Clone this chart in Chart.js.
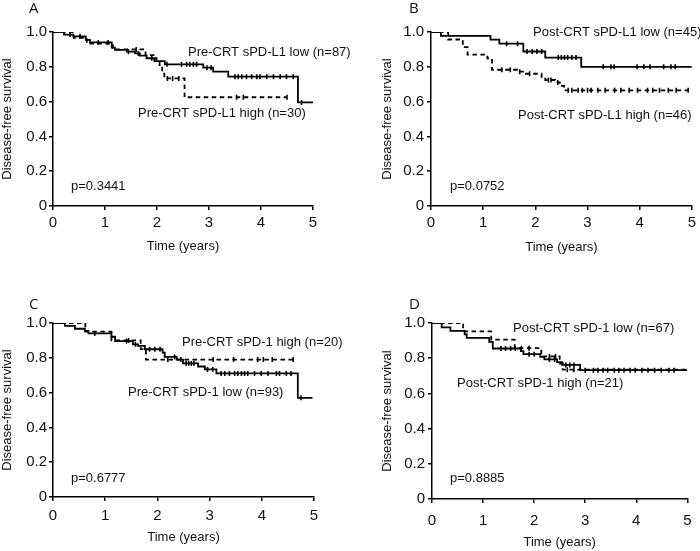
<!DOCTYPE html>
<html>
<head>
<meta charset="utf-8">
<script src="https://cdn.jsdelivr.net/npm/chart.js@4.4.1/dist/chart.umd.min.js"></script>
<style>
  html, body { margin: 0; padding: 0; background: #fff; }
  body { width: 700px; height: 551px; position: relative; overflow: hidden; }
  canvas { position: absolute; }
</style>
</head>
<body>
<canvas id="cA" width="350" height="275" style="left:0;top:0;width:350px;height:275px"></canvas>
<canvas id="cB" width="350" height="275" style="left:350px;top:0;width:350px;height:275px"></canvas>
<canvas id="cC" width="350" height="276" style="left:0;top:275px;width:350px;height:276px"></canvas>
<canvas id="cD" width="350" height="276" style="left:350px;top:275px;width:350px;height:276px"></canvas>
<script>
// ---------- tick labels ----------
const xTickLabels = ['0', '1', '2', '3', '4', '5'];
const yTickLabels = ['0', '0.2', '0.4', '0.6', '0.8', '1.0'];
const xTitle = 'Time (years)';
const yTitle = 'Disease-free survival';

// ---------- Panel A : Pre-CRT sPD-L1 ----------
const aLowT = [0, 0.21, 0.39, 0.63, 0.71, 1.13, 1.19, 1.42, 1.58, 1.67, 1.80, 1.99, 2.15, 2.89, 3.08, 3.37, 4.71, 5.0];
const aLowS = [1, 0.985, 0.975, 0.955, 0.94, 0.91, 0.897, 0.887, 0.877, 0.864, 0.849, 0.833, 0.814, 0.795, 0.772, 0.743, 0.595, 0.595];
const aLowCensor = [0.33, 0.52, 0.87, 1.06, 1.45, 1.64, 1.9, 2.19, 2.47, 2.57, 2.63, 2.7, 2.76, 2.96, 3.04, 3.5, 3.56, 3.63, 3.72, 3.82, 3.92, 3.98, 4.11, 4.24, 4.37, 4.49, 4.62, 4.78];
const aHighT = [0, 0.4, 0.65, 1.15, 1.78, 1.95, 2.05, 2.1, 2.14, 2.53, 4.5];
const aHighS = [1, 0.967, 0.933, 0.9, 0.867, 0.833, 0.8, 0.767, 0.733, 0.625, 0.625];
const aHighCensor = [1.6, 2.2, 2.3, 2.42, 3.53, 3.66, 4.5];

// ---------- Panel B : Post-CRT sPD-L1 ----------
const bLowT = [0, 0.19, 1.14, 1.31, 1.77, 2.19, 2.88, 5.0];
const bLowS = [1, 0.978, 0.956, 0.933, 0.888, 0.853, 0.80, 0.80];
const bLowCensor = [1.45, 1.66, 1.84, 1.94, 2.03, 2.12, 2.44, 2.5, 2.56, 2.62, 2.7, 2.78, 3.3, 3.45, 3.51, 3.95, 4.08, 4.2, 4.46, 4.6, 4.68];
const bHighT = [0, 0.33, 0.61, 0.7, 1.08, 1.17, 1.65, 1.82, 2.12, 2.19, 2.38, 2.47, 2.55, 4.93];
const bHighS = [1, 0.957, 0.913, 0.870, 0.848, 0.783, 0.772, 0.76, 0.742, 0.724, 0.71, 0.69, 0.665, 0.665];
const bHighCensor = [1.36, 1.52, 1.7, 1.89, 2.25, 2.3, 2.43, 2.63, 2.7, 2.82, 2.9, 3.0, 3.07, 3.2, 3.34, 3.52, 3.64, 3.8, 3.96, 4.15, 4.25, 4.38, 4.55, 4.7, 4.93];

// ---------- Panel C : Pre-CRT sPD-1 ----------
const cLowT = [0, 0.23, 0.42, 0.61, 0.68, 1.12, 1.19, 1.53, 1.63, 1.76, 2.1, 2.14, 2.37, 2.49, 2.78, 2.91, 3.13, 4.69, 4.97];
const cLowS = [1, 0.983, 0.967, 0.954, 0.94, 0.921, 0.896, 0.877, 0.868, 0.849, 0.83, 0.805, 0.79, 0.768, 0.75, 0.733, 0.71, 0.57, 0.57];
const cLowCensor = [0.8, 1.41, 1.58, 1.85, 1.95, 2.05, 2.33, 2.55, 2.6, 2.65, 2.7, 2.96, 3.06, 3.22, 3.29, 3.38, 3.48, 3.54, 3.61, 3.67, 3.73, 3.86, 3.99, 4.12, 4.28, 4.34, 4.47, 4.56, 4.75];
const cHighT = [0, 0.62, 1.12, 1.68, 1.78, 4.6];
const cHighS = [1, 0.95, 0.9, 0.85, 0.79, 0.79];
const cHighCensor = [1.45, 2.2, 2.45, 3.07, 3.46, 3.92, 4.03, 4.2, 4.6];

// ---------- Panel D : Post-CRT sPD-1 ----------
const dLowT = [0, 0.19, 0.36, 0.64, 0.68, 1.12, 1.19, 1.74, 1.79, 2.12, 2.2, 2.45, 2.55, 2.9, 5.0];
const dLowS = [1, 0.975, 0.955, 0.935, 0.915, 0.893, 0.855, 0.84, 0.823, 0.808, 0.793, 0.778, 0.762, 0.732, 0.732];
const dLowCensor = [1.35, 1.44, 1.54, 1.63, 1.9, 2.0, 2.3, 2.4, 2.62, 2.7, 2.78, 3.0, 3.16, 3.25, 3.35, 3.44, 3.57, 3.66, 3.76, 3.88, 3.98, 4.11, 4.23, 4.36, 4.49, 4.64, 4.74];
const dHighT = [0, 0.61, 1.16, 1.62, 2.14, 2.5, 2.56, 5.0];
const dHighS = [1, 0.952, 0.905, 0.857, 0.81, 0.77, 0.735, 0.735];
const dHighCensor = [1.75, 1.9, 2.3, 2.42, 2.65, 2.78];

// ---------- helpers ----------
const FONT = "'Liberation Sans', Arial, Helvetica, sans-serif";

function curvePoints(T, S) {
  return T.map((t, i) => ({ x: t, y: S[i] }));
}
// survival value of the step curve at time t (value of last step at or before t)
function censorPoints(T, S, C) {
  return C.map(t => {
    let v = S[0];
    for (let i = 0; i < T.length; i++) { if (T[i] <= t) v = S[i]; }
    return { x: t, y: v };
  });
}

const textPlugin = {
  id: 'panelText',
  afterDraw(chart, args, opts) {
    const ctx = chart.ctx;
    ctx.save();
    ctx.fillStyle = '#111';
    ctx.textBaseline = 'middle';
    ctx.textAlign = 'left';
    (opts.items || []).forEach(it => {
      ctx.font = it.font;
      ctx.fillText(it.text, it.px, it.py);
    });
    ctx.restore();
  }
};

function makePanel(id, p) {
  const solidLine = {
    type: 'line', data: curvePoints(p.solidT, p.solidS), stepped: 'before',
    borderColor: '#000', borderWidth: 1.8, pointRadius: 0, fill: false, order: 1
  };
  const dashedLine = {
    type: 'line', data: curvePoints(p.dashT, p.dashS), stepped: 'before',
    borderColor: '#000', borderWidth: 1.8, borderDash: [4.5, 3.5], pointRadius: 0, fill: false, order: 2
  };
  const solidCens = {
    type: 'scatter', data: censorPoints(p.solidT, p.solidS, p.solidC),
    pointStyle: 'line', rotation: 90, pointRadius: 2.5, borderColor: '#000', borderWidth: 1.6,
    backgroundColor: '#000', order: 0
  };
  const dashCens = {
    type: 'scatter', data: censorPoints(p.dashT, p.dashS, p.dashC),
    pointStyle: 'line', rotation: 90, pointRadius: 2.5, borderColor: '#000', borderWidth: 1.6,
    backgroundColor: '#000', order: 0
  };
  return new Chart(document.getElementById(id), {
    data: { datasets: [solidLine, dashedLine, solidCens, dashCens] },
    options: {
      responsive: false, animation: false, devicePixelRatio: 1,
      layout: { padding: { left: p.padLeft, right: p.padRight, top: p.padTop, bottom: 0 } },
      plugins: {
        legend: { display: false }, tooltip: { enabled: false },
        panelText: { items: p.texts }
      },
      scales: {
        x: {
          type: 'linear', min: 0, max: 5,
          ticks: { stepSize: 1, color: '#111', padding: p.xTickPad, font: { family: FONT, size: 15, weight: 'normal' },
                   callback: (v, i) => xTickLabels[i] },
          grid: { display: true, drawOnChartArea: false, drawTicks: true, tickLength: 4, color: '#000', lineWidth: 1.5 },
          border: { display: true, color: '#000', width: 1.5 },
          title: { display: true, text: xTitle, color: '#111', font: { family: FONT, size: 13, weight: 'normal' },
                   padding: { top: 0, bottom: p.xTitlePad } },
          afterFit: s => { s.height = p.xHeight; }
        },
        y: {
          type: 'linear', min: 0, max: 1,
          ticks: { stepSize: 0.2, color: '#111', padding: p.yTickPad, font: { family: FONT, size: 15, weight: 'normal' },
                   callback: (v, i) => yTickLabels[i] },
          grid: { display: true, drawOnChartArea: false, drawTicks: true, tickLength: 4, color: '#000', lineWidth: 1.5 },
          border: { display: true, color: '#000', width: 1.5 },
          title: { display: true, text: yTitle, color: '#111', font: { family: FONT, size: 13, weight: 'normal' },
                   padding: { top: 0, bottom: 0 } },
          afterFit: s => { s.width = p.yWidth; }
        }
      }
    },
    plugins: [textPlugin]
  });
}

const LBL = "13px " + FONT;
const LET = "15px 'Open Sans', 'Liberation Sans', sans-serif";

makePanel('cA', {
  solidT: aLowT, solidS: aLowS, solidC: aLowCensor,
  dashT: aHighT, dashS: aHighS, dashC: aHighCensor,
  padLeft: 0, yWidth: 53, padRight: 37, padTop: 32, xHeight: 69, xTitlePad: 21, xTickPad: 4, yTickPad: 2,
  texts: [
    { text: 'A', px: 29, py: 9, font: LET },
    { text: 'Pre-CRT sPD-L1 low (n=87)', px: 188, py: 52, font: LBL },
    { text: 'Pre-CRT sPD-L1 high (n=30)', px: 138, py: 113, font: LBL },
    { text: 'p=0.3441', px: 71, py: 186, font: LBL }
  ]
});
makePanel('cB', {
  solidT: bLowT, solidS: bLowS, solidC: bLowCensor,
  dashT: bHighT, dashS: bHighS, dashC: bHighCensor,
  padLeft: 30, yWidth: 51, padRight: 5, padTop: 32, xHeight: 69, xTitlePad: 20, xTickPad: 4, yTickPad: 3,
  texts: [
    { text: 'B', px: 59, py: 9, font: LET },
    { text: 'Post-CRT sPD-L1 low (n=45)', px: 183, py: 32, font: LBL },
    { text: 'Post-CRT sPD-L1 high (n=46)', px: 168, py: 115, font: LBL },
    { text: 'p=0.0752', px: 100, py: 186, font: LBL }
  ]
});
makePanel('cC', {
  solidT: cLowT, solidS: cLowS, solidC: cLowCensor,
  dashT: cHighT, dashS: cHighS, dashC: cHighCensor,
  padLeft: 0, yWidth: 53, padRight: 36, padTop: 48, xHeight: 54, xTitlePad: 6, xTickPad: 5.5, yTickPad: 2,
  texts: [
    { text: 'C', px: 29, py: 30, font: LET },
    { text: 'Pre-CRT sPD-1 high (n=20)', px: 182, py: 67, font: LBL },
    { text: 'Pre-CRT sPD-1 low (n=93)', px: 128, py: 117, font: LBL },
    { text: 'p=0.6777', px: 71, py: 203, font: LBL }
  ]
});
makePanel('cD', {
  solidT: dLowT, solidS: dLowS, solidC: dLowCensor,
  dashT: dHighT, dashS: dHighS, dashC: dHighCensor,
  padLeft: 30, yWidth: 52, padRight: 5, padTop: 48, xHeight: 52, xTitlePad: 1, xTickPad: 8.5, yTickPad: 3,
  texts: [
    { text: 'D', px: 59, py: 30, font: LET },
    { text: 'Post-CRT sPD-1 low (n=67)', px: 163, py: 53, font: LBL },
    { text: 'Post-CRT sPD-1 high (n=21)', px: 107, py: 108, font: LBL },
    { text: 'p=0.8885', px: 100, py: 203, font: LBL }
  ]
});
</script>
</body>
</html>
